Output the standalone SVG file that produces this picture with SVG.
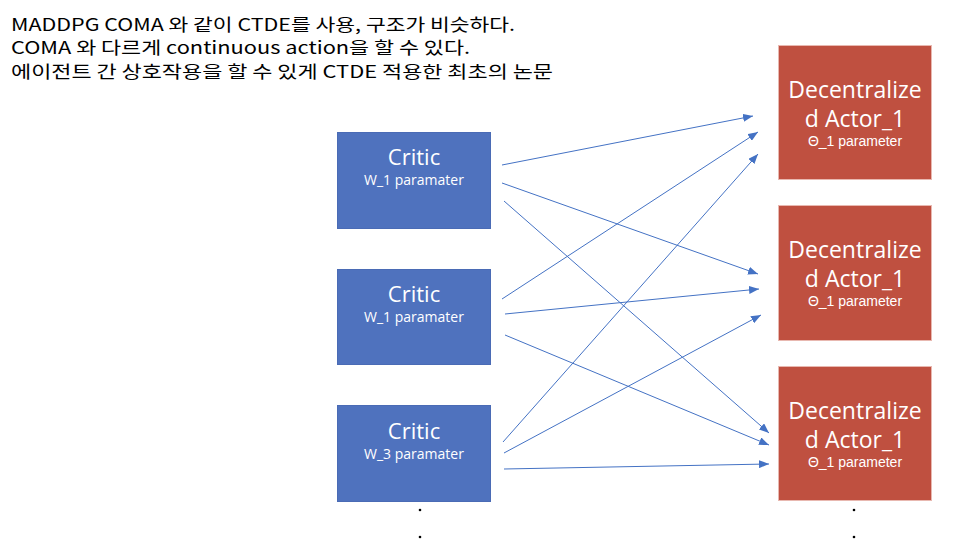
<svg xmlns="http://www.w3.org/2000/svg" width="966" height="552" viewBox="0 0 966 552">
<style>
.t{font-family:"Noto Sans CJK KR","Noto Sans",sans-serif;fill:#000;font-size:17px}
.critic rect{fill:#4F72BE;stroke:#4A6BB5;stroke-width:1}
.actor rect{fill:#BF5040;stroke:#E8B8B0;stroke-width:1}
.ttl{font-family:"Open Sans","Noto Sans",sans-serif;fill:#fff;text-anchor:middle}
.sub{font-family:"Liberation Sans",Arial,sans-serif;fill:#fff;text-anchor:middle;font-size:14px}
.dot{fill:#000}
#connectors line{stroke:#4472C4;stroke-width:1;marker-end:url(#ah)}
</style>
<defs>
<marker id="ah" markerWidth="10" markerHeight="8" refX="10" refY="4" orient="auto" markerUnits="userSpaceOnUse">
<path d="M0,0 L10,4 L0,8 Z" fill="#4472C4"/>
</marker>
</defs>
<rect width="966" height="552" fill="#fff"/>
<g id="notes">
<text class="t" x="11" y="31" textLength="504" lengthAdjust="spacingAndGlyphs">MADDPG COMA 와 같이 CTDE를 사용, 구조가 비슷하다.</text>
<text class="t" x="11" y="54" textLength="459" lengthAdjust="spacingAndGlyphs">COMA 와 다르게 continuous action을 할 수 있다.</text>
<text class="t" x="11" y="78" textLength="542" lengthAdjust="spacingAndGlyphs">에이전트 간 상호작용을 할 수 있게 CTDE 적용한 최초의 논문</text>
</g>
<g id="critic1" class="critic">
<rect x="337.5" y="132.5" width="153" height="96"/>
<text class="ttl" x="414" y="165" font-size="22">Critic</text>
<text class="ttl" x="414" y="185" font-size="14">W_1 paramater</text>
</g>
<g id="critic2" class="critic">
<rect x="337.5" y="269.5" width="153" height="95"/>
<text class="ttl" x="414" y="302" font-size="22">Critic</text>
<text class="ttl" x="414" y="322" font-size="14">W_1 paramater</text>
</g>
<g id="critic3" class="critic">
<rect x="337.5" y="405.5" width="153" height="96"/>
<text class="ttl" x="414" y="439" font-size="22">Critic</text>
<text class="ttl" x="414" y="459" font-size="14">W_3 paramater</text>
</g>
<g id="actor1" class="actor">
<rect x="778.5" y="45.5" width="153" height="134"/>
<text class="ttl" x="855" y="98" font-size="23">Decentralize</text>
<text class="ttl" x="855" y="127" font-size="23">d Actor_1</text>
<text class="sub" x="855" y="146">Θ_1 parameter</text>
</g>
<g id="actor2" class="actor">
<rect x="778.5" y="205.5" width="153" height="135"/>
<text class="ttl" x="855" y="258" font-size="23">Decentralize</text>
<text class="ttl" x="855" y="287" font-size="23">d Actor_1</text>
<text class="sub" x="855" y="306">Θ_1 parameter</text>
</g>
<g id="actor3" class="actor">
<rect x="778.5" y="366.5" width="153" height="134"/>
<text class="ttl" x="855" y="419" font-size="23">Decentralize</text>
<text class="ttl" x="855" y="448" font-size="23">d Actor_1</text>
<text class="sub" x="855" y="467">Θ_1 parameter</text>
</g>
<g id="ellipsis">
<circle class="dot" cx="420" cy="510" r="1.3"/>
<circle class="dot" cx="420" cy="537" r="1.3"/>
<circle class="dot" cx="854" cy="510" r="1.3"/>
<circle class="dot" cx="854" cy="537" r="1.3"/>
</g>
<g id="connectors">
<line x1="502" y1="165" x2="753" y2="116"/>
<line x1="502" y1="183" x2="758" y2="274"/>
<line x1="504" y1="201" x2="769" y2="433"/>
<line x1="502" y1="299" x2="758" y2="132"/>
<line x1="505" y1="314" x2="759" y2="289"/>
<line x1="505" y1="335" x2="769" y2="445"/>
<line x1="503" y1="442" x2="758" y2="154"/>
<line x1="504" y1="453" x2="761" y2="315"/>
<line x1="504" y1="469" x2="769" y2="464"/>
</g>
</svg>
